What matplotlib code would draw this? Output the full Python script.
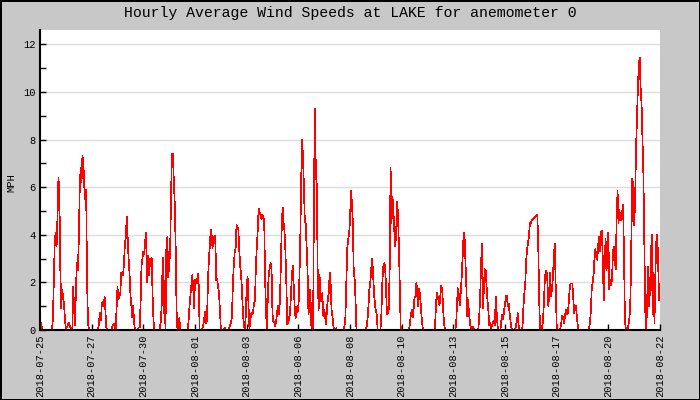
import numpy as np
import matplotlib
matplotlib.use("Agg")
import matplotlib.pyplot as plt
from matplotlib.ticker import MultipleLocator

# =========================
# DATA (hourly averages, MPH)
# =========================
week1 = [
    0.3, 0.3, 0.1, 0, 0, 0, 0, 0, 0, 0, 0, 0, 0, 0, 0.5, 2.2, 3.75, 4.1, 3.5, 4.8, 6.4, 5.7, 2.6, 0.9,
    1.7, 1.4, 1.1, 0.5, 0, 0.1, 0.2, 0.3, 0.2, 0.1, 0, 0, 1.8, 0.9, 0.2, 1.8, 2.8, 2.5, 3.7, 5.8, 6.8, 6.2, 7.3, 7.0,
    6.0, 5.5, 5.9, 2.1, 0.35, 0, 0, 0, 0, 0, 0, 0, 0, 0, 0, 0, 0.35, 0.7, 0.4, 1.1, 1.2, 1.0, 1.4, 0.7,
    0.05, 0, 0, 0, 0, 0, 0.1, 0.2, 0.25, 0.15, 0, 0.9, 1.8, 1.3, 1.4, 1.5, 2.4, 2.3, 2.3, 2.8, 3.6, 3.9, 4.75, 3.9,
    3.0, 2.4, 1.5, 1.0, 0.55, 1.0, 0.3, 0, 0, 0, 0, 0.1, 0.1, 1.1, 2.7, 3.0, 3.3, 3.2, 3.75, 4.1, 2.0, 3.1, 2.3, 3.0,
    2.7, 3.05, 1.5, 0.4, 0, 0, 0, 0, 0, 0, 0.1, 0.4, 1.15, 3.05, 0.7, 2.05, 0, 3.6, 3.9, 2.2, 2.8, 3.2, 5.55, 7.4,
    7.4, 6.3, 5.35, 3.6, 0.85, 0, 0.3, 0.5, 0, 0, 0, 0, 0, 0, 0, 0, 0, 0.35, 1.0, 1.45, 1.9, 2.3, 1.85, 0.9,
]
week2 = [
    2.1, 2.0, 1.95, 2.35, 1.9, 0, 0, 0, 0.05, 0.2, 0.5, 0.75, 0.3, 0.4, 2.0, 2.95, 3.5, 4.2, 4.0, 3.45, 3.9, 3.65, 3.95, 2.1,
    2.15, 1.8, 1.55, 0.85, 0.05, 0, 0, 0, 0.1, 0, 0, 0, 0, 0.1, 0.2, 0.3, 0.55, 1.85, 2.7, 3.25, 3.4, 4.4, 4.35, 4.2,
    3.35, 2.7, 2.3, 1.6, 0.65, 0.2, 0, 0.6, 1.75, 2.25, 1.0, 0.05, 0.45, 0.7, 0.65, 0.75, 1.15, 1.2, 2.7, 3.5, 4.2, 5.1, 4.85, 4.9,
    4.65, 4.85, 4.75, 4.55, 2.15, 0.7, 0, 1.55, 2.4, 2.6, 2.8, 2.5, 0.65, 0.35, 0.3, 0.15, 0.4, 0.75, 1.0, 0.65, 1.2, 2.65, 4.3, 5.15,
    4.5, 4.15, 3.3, 1.95, 0.25, 0.3, 0.5, 0.7, 1.45, 2.25, 2.7, 1.85, 1.0, 0.5, 0.7, 1.0, 0.8, 1.95, 3.55, 6.1, 8.0, 7.3, 6.1, 4.6,
    4.45, 3.5, 2.5, 0.65, 1.05, 1.7, 0.2, 0, 0, 6.05, 9.3, 6.55, 6.1, 2.35, 0.85, 2.3, 1.3, 1.2, 1.55, 0.6, 0.85, 0.6, 0.25, 0.85,
    1.3, 1.55, 2.4, 1.95, 0.85, 0.55, 0.15, 0.03, 0, 0.07, 0, 0, 0, 0, 0, 0, 0, 0, 0.15, 0.55, 2.0, 3.4, 3.8, 4.0,
]
week3 = [
    4.6, 5.85, 5.4, 4.6, 2.55, 2.15, 1.25, 0, 0, 0, 0, 0, 0, 0, 0, 0, 0, 0, 0.15, 0.45, 1.0, 1.7, 2.0, 2.55,
    3.0, 2.4, 1.55, 1.1, 0.8, 0.65, 0, 0, 0, 0, 0.65, 1.95, 2.65, 2.8, 2.7, 1.85, 0.65, 0.7, 0.9, 2.55, 6.8, 4.5, 5.6, 5.05,
    4.2, 3.5, 4.0, 5.4, 4.9, 3.5, 1.7, 0, 0, 0, 0, 0, 0, 0, 0, 0, 0, 0.3, 0.65, 0.85, 0.55, 0.9, 1.4, 1.4,
    2.0, 1.4, 1.0, 1.75, 1.4, 0.85, 0.35, 0.03, 0, 0, 0, 0, 0, 0, 0, 0, 0, 0, 0, 0, 0, 0.85, 1.55, 1.4,
    1.25, 1.05, 1.5, 1.85, 1.65, 0.85, 0.25, 0, 0, 0, 0, 0, 0, 0, 0, 0, 0, 0, 0, 0.2, 1.15, 1.75, 1.45, 1.05,
    1.55, 2.2, 3.0, 3.9, 4.1, 3.0, 1.95, 0.6, 1.25, 0.7, 0.3, 0.05, 0.15, 0.15, 0.05, 0, 0, 0, 0, 0, 0.55, 1.3, 2.7, 3.6,
    0.9, 1.65, 2.55, 2.5, 1.85, 1.25, 0.8, 0.2, 0.3, 0.05, 0.2, 0.3, 0.4, 0.2, 1.4, 0.7, 0.15, 0, 0, 0, 0.4, 0.65, 0.45, 0.8,
]
week4 = [
    1.1, 1.4, 1.45, 1.0, 1.1, 0.7, 0.35, 0.05, 0, 0, 0, 0, 0.2, 0.4, 0.7, 0.05, 0, 0, 0, 0.15, 1.0, 1.55, 2.0, 2.95,
    3.4, 3.7, 3.95, 4.5, 4.5, 4.6, 4.65, 4.7, 4.75, 4.75, 4.8, 4.85, 3.65, 1.3, 0.07, 0, 0.1, 0.3, 1.0, 1.95, 2.45, 2.5, 2.05, 1.0,
    1.6, 2.4, 1.4, 1.75, 2.25, 3.2, 3.6, 1.75, 0.2, 0, 0, 0, 0.07, 0.3, 0.6, 0.5, 0.3, 0.55, 0.85, 0.65, 0.7, 1.1, 1.7, 1.95,
    1.95, 1.95, 1.3, 0.7, 0.95, 1.0, 0.5, 0.15, 0, 0, 0, 0, 0, 0, 0, 0, 0, 0, 0, 0, 0.3, 0.75, 1.75, 2.0,
    2.3, 3.05, 3.4, 3.05, 2.95, 3.55, 3.9, 3.3, 4.1, 4.15, 2.95, 1.25, 2.5, 3.85, 2.5, 3.05, 4.1, 1.7, 2.1, 1.9, 2.15, 3.3, 3.5, 2.95,
    2.55, 4.65, 5.85, 4.5, 5.05, 4.7, 4.6, 4.95, 5.25, 3.05, 0.4, 0, 0, 0, 0.25, 0.55, 1.4, 3.8, 6.35, 6.0, 4.4, 5.4, 7.55, 8.8,
    10.15, 11.1, 11.45, 10.15, 9.5, 8.0, 6.55, 3.55, 0.85, 0, 1.0, 2.65, 1.0, 1.55, 2.8, 4.0, 0.65, 2.4, 0.3, 2.4, 3.7, 4.0, 2.8, 1.25,
    1.4,
]

date_labels = ["2018-07-25", "2018-07-27", "2018-07-30", "2018-08-01", "2018-08-03",
               "2018-08-06", "2018-08-08", "2018-08-10", "2018-08-13", "2018-08-15",
               "2018-08-17", "2018-08-20", "2018-08-22"]

speed = np.array(week1 + week2 + week3 + week4)
hours = np.arange(len(speed))

# =========================
# PLOT
# =========================
plt.rcParams["font.family"] = ["Liberation Mono", "DejaVu Sans Mono"]

fig = plt.figure(figsize=(7, 4), dpi=100, facecolor="#c8c8c8")
fig.patch.set_edgecolor("black")
fig.patch.set_linewidth(2)
ax = fig.add_axes([40 / 700, 70 / 400, 620 / 700, 300 / 400])
ax.set_facecolor("white")

ax.plot(hours, speed, color="red", linewidth=0.5, antialiased=False, zorder=3)

ax.set_xlim(0, 672)
ax.set_ylim(0, 12.6)

ax.yaxis.set_major_locator(MultipleLocator(2))
ax.yaxis.set_minor_locator(MultipleLocator(1))
ax.set_xticks(np.linspace(0, 672, len(date_labels)))
ax.set_xticklabels(date_labels, rotation=90)

ax.grid(axis="y", which="major", color="#dcdcdc", linewidth=1)
ax.set_axisbelow(True)

for side in ["top", "right"]:
    ax.spines[side].set_visible(False)
for side in ["left", "bottom"]:
    ax.spines[side].set_linewidth(1.5)
    ax.spines[side].set_zorder(4)

ax.tick_params(which="both", direction="in", length=4, width=1, labelsize=7.5, pad=3)

ax.set_ylabel("MPH", fontsize=7.5)
ax.yaxis.set_label_coords(-0.038, 0.49)
ax.set_title("Hourly Average Wind Speeds at LAKE for anemometer 0", fontsize=10.7, pad=9)

fig.savefig("out.png", dpi=100, facecolor=fig.get_facecolor(), edgecolor=fig.patch.get_edgecolor())
